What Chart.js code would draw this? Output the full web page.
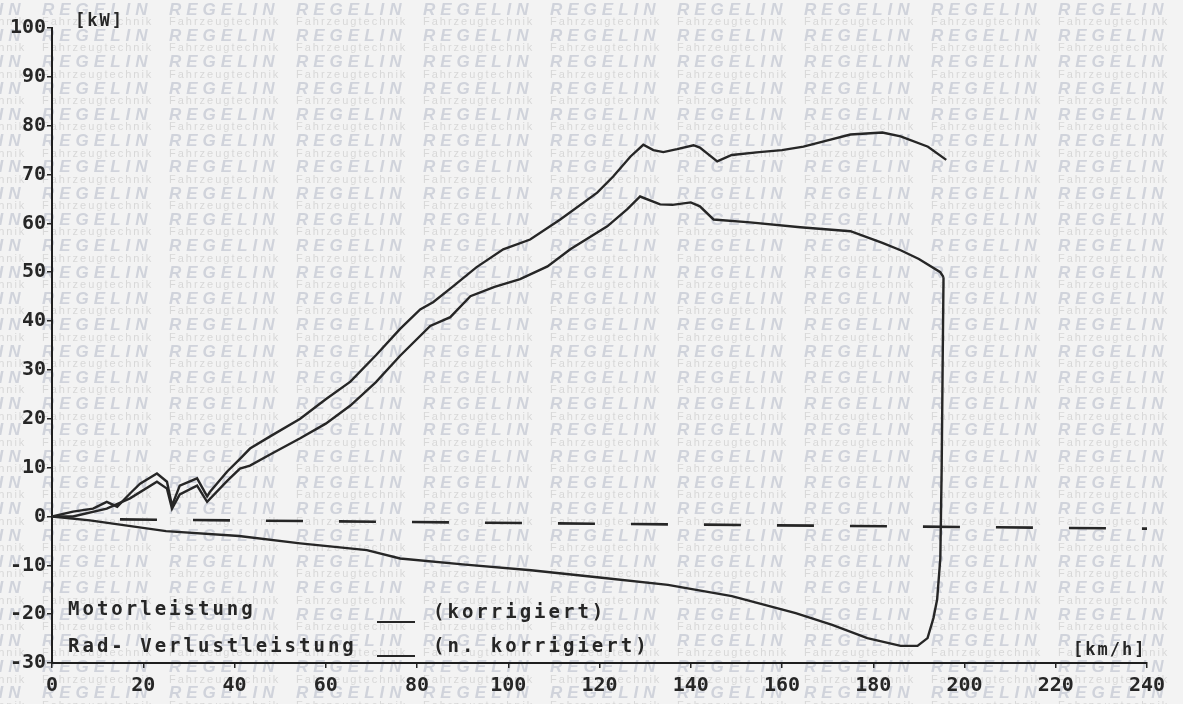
<!DOCTYPE html>
<html>
<head>
<meta charset="utf-8">
<title>Leistungsdiagramm</title>
<script src="https://cdn.jsdelivr.net/npm/chart.js@4/dist/chart.umd.min.js"></script>
<style>
  html, body { margin: 0; padding: 0; background: #f3f3f3; }
  #wrap { width: 1183px; height: 704px; }
</style>
</head>
<body>
<div id="wrap"><canvas id="chart"></canvas></div>
<script>
// Motorleistung (korrigiert) - upper curve
const motorSpeed = [0, 4.6, 9, 12, 14.3, 17.1, 19.3, 23, 25.2, 26.3, 28, 31.8, 34, 34.6, 38.4, 41.2, 43.4,
  48, 54.4, 60, 65.4, 71, 76.3, 80.7, 83.6, 87.9, 93, 98.9, 104.8, 111.4, 119.5, 123, 126.8, 129.6, 131.8,
  134, 137, 140.6, 142, 145.8, 149, 155, 160, 164.7, 170, 175, 182, 186, 192, 196];
const motorPower = [0, 1, 1.6, 3, 2, 4.7, 6.7, 8.8, 7.1, 2.2, 6.3, 7.8, 4.1, 5, 9.2, 11.8, 13.9,
  16.5, 20, 24, 27.6, 33, 38.4, 42.4, 43.9, 47.1, 51, 54.7, 56.7, 60.8, 66.3, 69.6, 73.7, 76.1, 75,
  74.6, 75.2, 76, 75.5, 72.7, 74, 74.6, 75, 75.7, 77, 78.2, 78.6, 77.8, 75.7, 73];

// Radleistung - middle curve
const wheelSpeed = [0, 4.6, 12, 17.1, 23, 25.2, 26.3, 28, 31.8, 34, 38.4, 41.2, 43.4, 48, 54.4, 60, 65.4,
  71, 76.3, 82.9, 87.3, 91.7, 97, 102.6, 108.6, 113.6, 121.7, 126.1, 128.9, 133.3, 136, 140, 142, 145,
  153, 164, 175, 182, 186, 190, 194.7, 195.4];
const wheelPower = [0, 0, 1.6, 3.7, 7.1, 5.7, 1.6, 4.5, 6.3, 3, 7.3, 9.8, 10.4, 12.8, 16, 19, 22.7,
  27.5, 32.9, 39, 40.8, 45.1, 47, 48.6, 51.2, 54.7, 59.4, 62.9, 65.5, 63.9, 63.8, 64.3, 63.5, 60.8,
  60.2, 59.2, 58.4, 56, 54.5, 52.7, 50, 49];

// Verlustleistung - negative curve, closing back up to the wheel curve
const lossSpeed = [0, 8.3, 25, 41, 54.4, 69, 76.3, 90, 105, 120, 135, 149, 163, 171, 178.7, 186, 189.7,
  191.9, 193.2, 194, 194.7, 195, 195.2, 195.4];
const lossPower = [0, -0.8, -3, -4, -5.5, -6.9, -8.6, -9.8, -11, -12.5, -14, -16.3, -19.8, -22.2, -24.9,
  -26.5, -26.5, -24.9, -20.8, -17, -8.6, 10, 30, 49];

// dashed reference line
const refSpeed = [14.9, 240];
const refPower = [-0.6, -2.5];

const xTicks = [0, 20, 40, 60, 80, 100, 120, 140, 160, 180, 200, 220, 240];
const yTicks = [-30, -20, -10, 0, 10, 20, 30, 40, 50, 60, 70, 80, 90, 100];

function toPoints(xs, ys) {
  return xs.map((x, i) => ({ x: x, y: ys[i] }));
}

const ink = '#262626';
const tickFont = { family: '"DejaVu Sans Mono", monospace', size: 20, weight: 'bold' };

// watermark background
const watermark = {
  id: 'watermark',
  beforeDraw(chart) {
    const ctx = chart.ctx;
    ctx.save();
    ctx.fillStyle = '#f3f3f3';
    ctx.fillRect(0, 0, chart.width, chart.height);
    ctx.textBaseline = 'middle';
    for (let row = 0; row < 28; row++) {
      const y = 10 + row * 26.3;
      for (let col = -1; col < 10; col++) {
        const x = 42 + col * 127;
        ctx.font = 'italic 700 17px "Liberation Sans", "DejaVu Sans"';
        ctx.letterSpacing = '5px';
        ctx.fillStyle = '#d0d3db';
        ctx.fillText('REGELIN', x, y);
        ctx.font = '11px "Liberation Sans"';
        ctx.letterSpacing = '2px';
        ctx.fillStyle = '#d8d8d8';
        ctx.fillText('Fahrzeugtechnik', x, y + 12);
      }
    }
    ctx.restore();
  }
};

// units and legend text
const annotations = {
  id: 'annotations',
  afterDraw(chart) {
    const ctx = chart.ctx;
    ctx.save();
    ctx.fillStyle = ink;
    ctx.strokeStyle = ink;
    ctx.textBaseline = 'middle';
    ctx.font = 'bold 17px "DejaVu Sans Mono"';
    ctx.letterSpacing = '2px';
    ctx.fillText('[kW]', 75, 22);
    ctx.fillText('[km/h]', 1073, 651);

    ctx.font = 'bold 19px "DejaVu Sans Mono"';
    ctx.letterSpacing = '3px';
    ctx.fillText('Motorleistung', 68, 610);
    ctx.fillText('Rad- Verlustleistung', 68, 647);
    ctx.fillText('(korrigiert)', 433, 613);
    ctx.fillText('(n. korrigiert)', 433, 647);

    ctx.lineWidth = 2;
    ctx.beginPath();
    ctx.moveTo(377, 622); ctx.lineTo(415, 622);
    ctx.moveTo(377, 656); ctx.lineTo(415, 656);
    ctx.stroke();
    ctx.restore();
  }
};

document.addEventListener('DOMContentLoaded', function() {
  const ctx = document.getElementById('chart').getContext('2d');
  const lineStyle = { borderColor: ink, borderWidth: 2.4, pointRadius: 0, tension: 0, fill: false };

  new Chart(ctx, {
    type: 'line',
    data: {
      datasets: [
        Object.assign({ label: 'Motorleistung', data: toPoints(motorSpeed, motorPower) }, lineStyle),
        Object.assign({ label: 'Radleistung', data: toPoints(wheelSpeed, wheelPower) }, lineStyle),
        Object.assign({ label: 'Verlustleistung', data: toPoints(lossSpeed, lossPower) }, lineStyle),
        Object.assign({ label: 'Referenz', data: toPoints(refSpeed, refPower), borderDash: [37, 36] },
          lineStyle, { borderWidth: 2.6 })
      ]
    },
    options: {
      responsive: true,
      maintainAspectRatio: false,
      animation: false,
      layout: { padding: { top: 28, right: 36, left: 0, bottom: 0 } },
      plugins: {
        legend: { display: false },
        tooltip: { enabled: false }
      },
      scales: {
        x: {
          type: 'linear',
          min: 0,
          max: 240,
          afterBuildTicks: scale => { scale.ticks = xTicks.map(v => ({ value: v })); },
          afterFit: scale => { scale.height = 41; },
          ticks: { font: tickFont, color: ink, padding: 6, maxRotation: 0, autoSkip: false },
          grid: { drawOnChartArea: false, tickLength: 5, color: ink, lineWidth: 1.5 },
          border: { color: '#1e1e1e', width: 2 }
        },
        y: {
          type: 'linear',
          min: -30,
          max: 100,
          afterBuildTicks: scale => { scale.ticks = yTicks.map(v => ({ value: v })); },
          afterFit: scale => { scale.width = 52; },
          ticks: { font: tickFont, color: ink, padding: 1, autoSkip: false },
          grid: { drawOnChartArea: false, tickLength: 5, color: ink, lineWidth: 1.5 },
          border: { color: '#1e1e1e', width: 2 }
        }
      }
    },
    plugins: [watermark, annotations]
  });
});
</script>
</body>
</html>
